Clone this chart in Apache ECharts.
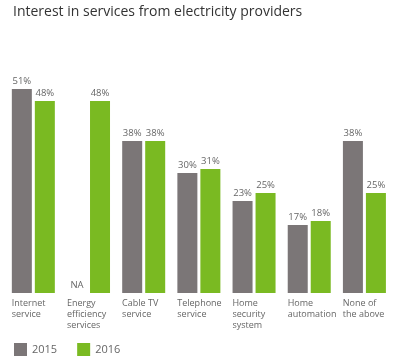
<!DOCTYPE html>
<html>
<head>
<meta charset="utf-8">
<script src="https://cdn.jsdelivr.net/npm/echarts@6/dist/echarts.min.js"></script>
<style>html,body{margin:0;padding:0;background:#fff;}#c{width:401px;height:363px;}</style>
</head>
<body>
<div id="c"></div>
<script>
var titleText = 'Interest in services from electricity providers';
var categories = ['Internet\nservice', 'Energy\nefficiency\nservices', 'Cable TV\nservice', 'Telephone\nservice', 'Home\nsecurity\nsystem', 'Home\nautomation', 'None of\nthe above'];
var seriesNames = ['2015', '2016'];
var values2015 = [51, null, 38, 30, 23, 17, 38];
var values2016 = [48, 48, 38, 31, 25, 18, 25];

var FONT = 'Open Sans';
var labelStyle = {show: true, position: 'top', distance: 3, color: '#666', fontFamily: FONT, fontSize: 9.5,
  formatter: function (p) { return p.value == null || p.value === 0 ? 'NA' : p.value + '%'; }};

function toData(arr) {
  return arr.map(function (v) {
    return v == null ? {value: 0, label: {show: true, formatter: 'NA'}} : v;
  });
}

var chart = echarts.init(document.getElementById('c'), null, {renderer: 'canvas'});
chart.setOption({
  animation: false,
  textStyle: {fontFamily: FONT},
  title: {text: titleText, left: 8, top: 0, textStyle: {fontFamily: FONT, fontSize: 14, fontWeight: 'normal', color: '#333'}},
  legend: {left: 9, top: 338, itemWidth: 13, itemHeight: 13, itemGap: 20, icon: 'rect',
    textStyle: {fontFamily: FONT, fontSize: 11, color: '#666'}, data: seriesNames},
  grid: {left: 5.75, right: 7, top: 53, bottom: 70, containLabel: false},
  xAxis: [
    {type: 'category', data: categories, axisLine: {show: false}, axisTick: {show: false}, axisLabel: {show: false}},
    {type: 'category', position: 'bottom', boundaryGap: false, data: categories.concat(['']),
      axisLine: {show: false}, axisTick: {show: false},
      axisLabel: {interval: 0, align: 'left', verticalAlign: 'top', margin: 5, padding: [0, 0, 0, 6],
        color: '#666', fontFamily: FONT, fontSize: 9, lineHeight: 11}}
  ],
  yAxis: {type: 'value', min: 0, max: 60, show: false, splitLine: {show: false}},
  series: [
    {name: seriesNames[0], type: 'bar', xAxisIndex: 0, data: toData(values2015), barWidth: 20, barGap: '15%',
      itemStyle: {color: '#7b7677'}, label: labelStyle},
    {name: seriesNames[1], type: 'bar', xAxisIndex: 0, data: toData(values2016), barWidth: 20, barGap: '15%',
      itemStyle: {color: '#7aba22'}, label: labelStyle}
  ]
});
</script>
</body>
</html>
